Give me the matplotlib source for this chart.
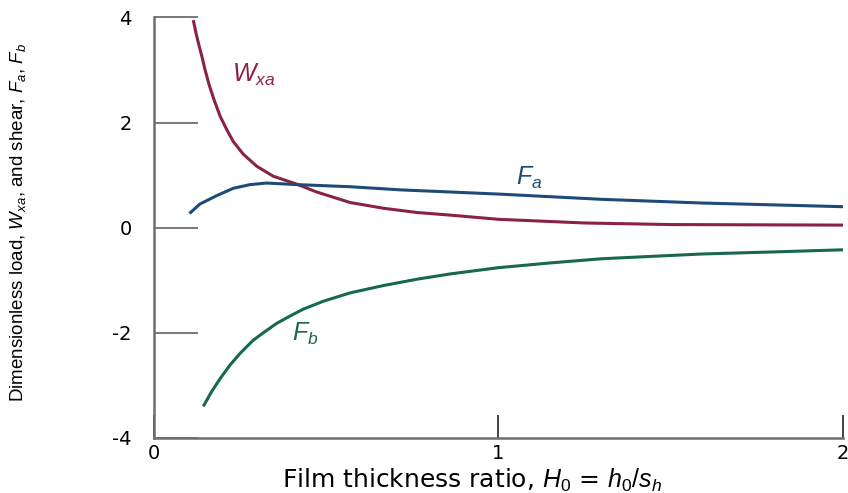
import matplotlib
matplotlib.use("Agg")
import matplotlib.pyplot as plt

plt.rcParams["font.family"] = ["Liberation Sans", "DejaVu Sans"]
plt.rcParams["mathtext.fontset"] = "custom"
plt.rcParams["mathtext.rm"] = "Liberation Sans"
plt.rcParams["mathtext.it"] = "Liberation Sans:italic"

# load curve W_xa
h_w = [0.114, 0.122, 0.129, 0.139, 0.148, 0.160, 0.174, 0.192, 0.211, 0.230, 0.259,
       0.298, 0.346, 0.414, 0.472, 0.569, 0.666, 0.763, 0.859, 1.0, 1.25, 1.5, 2.0]
w_xa = [3.95, 3.70, 3.51, 3.26, 3.01, 2.72, 2.44, 2.12, 1.87, 1.64, 1.40,
        1.17, 0.98, 0.83, 0.68, 0.48, 0.37, 0.29, 0.24, 0.16, 0.09, 0.06, 0.05]

# shear on surface a
h_a = [0.103, 0.133, 0.182, 0.230, 0.279, 0.327, 0.415, 0.569, 0.715, 0.859,
       1.0, 1.3, 1.59, 2.0]
f_a = [0.27, 0.45, 0.61, 0.75, 0.82, 0.85, 0.82, 0.78, 0.72, 0.68,
       0.64, 0.54, 0.47, 0.40]

# shear on surface b
h_b = [0.143, 0.167, 0.192, 0.221, 0.250, 0.288, 0.317, 0.356, 0.395, 0.433, 0.491,
       0.569, 0.666, 0.763, 0.859, 1.0, 1.15, 1.3, 1.59, 1.8, 2.0]
f_b = [-3.40, -3.12, -2.87, -2.61, -2.39, -2.14, -2.00, -1.82, -1.68, -1.55, -1.40,
       -1.24, -1.10, -0.98, -0.88, -0.76, -0.67, -0.59, -0.50, -0.46, -0.42]

red = "#8a2342"
blue = "#1f4a78"
green = "#17684f"
grey = "#6e6e6e"

fig = plt.figure(figsize=(8.48, 4.93), dpi=100)
ax = fig.add_axes([0.1816, 0.1116, 0.8125, 0.853])

ax.plot(h_w, w_xa, color=red, lw=2.2, solid_capstyle="butt", solid_joinstyle="round")
ax.plot(h_a, f_a, color=blue, lw=2.2, solid_capstyle="butt", solid_joinstyle="round")
ax.plot(h_b, f_b, color=green, lw=2.2, solid_capstyle="butt", solid_joinstyle="round")

ax.text(0.29, 2.91, "$W_{xa}$", color=red, fontsize=18, ha="center", va="center")
ax.text(1.09, 0.95, "$F_a$", color=blue, fontsize=18, ha="center", va="center")
ax.text(0.44, -2.02, "$F_b$", color=green, fontsize=18, ha="center", va="center")

ax.set_xlim(0, 2)
ax.set_ylim(-4, 4)
ax.set_xticks([0, 1, 2])
ax.set_yticks([-4, -2, 0, 2, 4])
ax.set_yticklabels(["-4", "-2", "0", "2", "4"])

for side in ["top", "right"]:
    ax.spines[side].set_visible(False)
for side in ["left", "bottom"]:
    ax.spines[side].set_color(grey)
    ax.spines[side].set_linewidth(1.8)

ax.tick_params(axis="y", direction="in", length=32, width=1.3, color=grey,
               labelsize=14, pad=16)
ax.tick_params(axis="x", direction="in", length=16.5, width=1.3, color="#333333",
               labelsize=14, pad=4)
for lab in ax.get_xticklabels() + ax.get_yticklabels():
    lab.set_family(["DejaVu Sans"])

ax.set_xlabel(r"Film thickness ratio, $H_0$ = $h_0/s_h$", fontsize=18,
              family=["DejaVu Sans"])
ax.xaxis.label.set_va("center")
ax.xaxis.set_label_coords(0.462, -0.10)
ax.set_ylabel(r"Dimensionless load, $W_{xa}$, and shear, $F_a$, $F_b$", fontsize=13.5)
ax.yaxis.set_label_coords(-0.183, 0.512)

fig.savefig("out.png", dpi=100)
